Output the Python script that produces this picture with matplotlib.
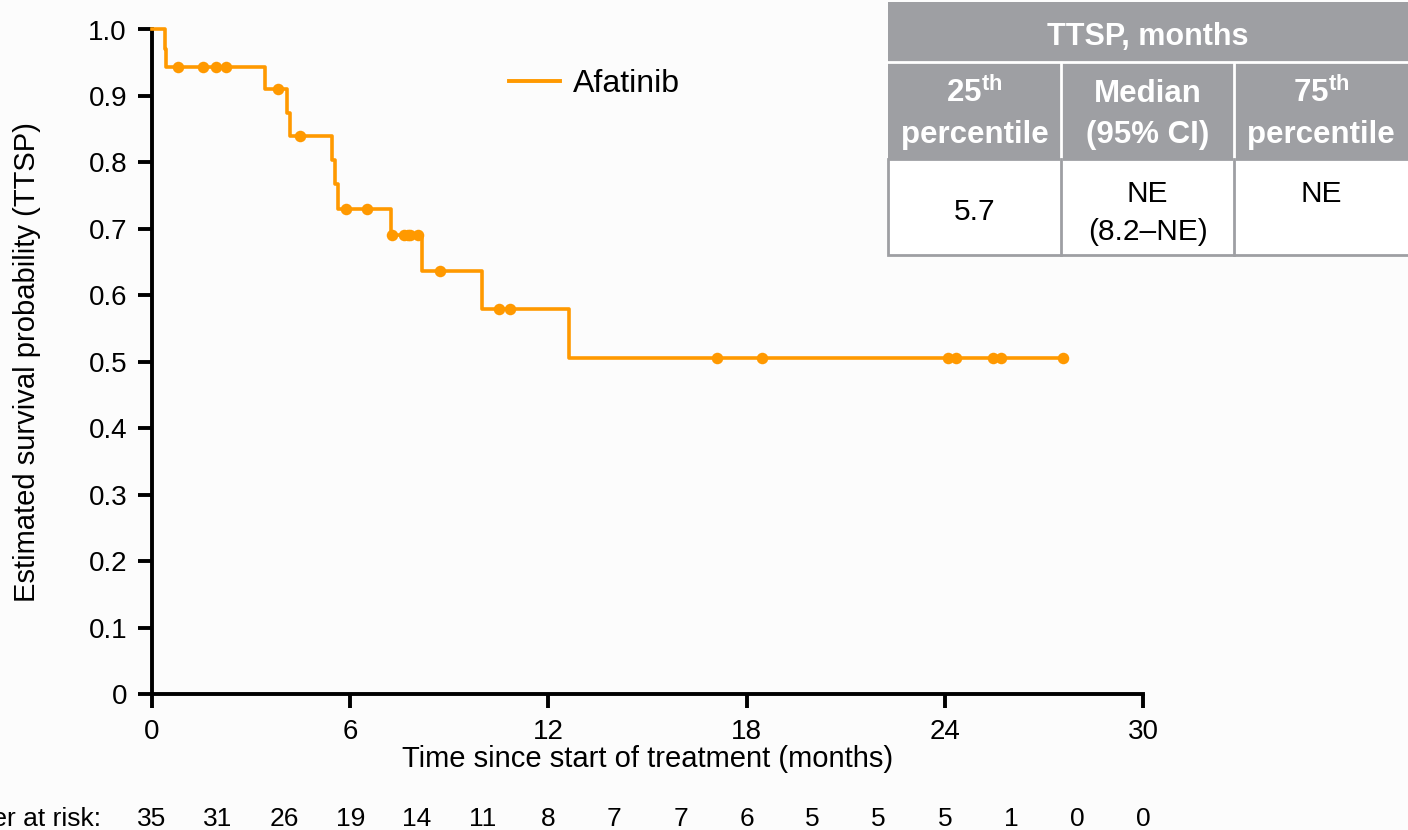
import numpy as np
import matplotlib
matplotlib.use("Agg")
import matplotlib.pyplot as plt
import matplotlib.transforms as mtransforms
from matplotlib.patches import Rectangle
from matplotlib.lines import Line2D

# Kaplan-Meier step curve
step_times = [0, 0.38, 0.42, 3.42, 4.08, 4.18, 5.44, 5.54, 5.64, 7.24, 8.18, 9.98, 12.61]
survival = [1.0, 0.971, 0.943, 0.910, 0.875, 0.840, 0.804, 0.768, 0.730, 0.691, 0.637, 0.579, 0.505]
end_time = 27.57

censor_times = [0.78, 1.55, 1.95, 2.25, 3.80, 4.49, 5.87, 6.52, 7.28, 7.62, 7.74,
                7.82, 8.06, 8.72, 10.49, 10.85, 17.10, 18.46, 24.11, 24.34,
                25.47, 25.70, 27.57]

risk_times = list(range(0, 31, 2))
n_at_risk = [35, 31, 26, 19, 14, 11, 8, 7, 7, 6, 5, 5, 5, 1, 0, 0]

table_title = "TTSP, months"
table_head = [(r"25$^{\mathbf{th}}$", "percentile"), ("Median", "(95% CI)"),
              (r"75$^{\mathbf{th}}$", "percentile")]
table_vals = [("5.7",), ("NE", "(8.2\u2013NE)"), ("NE",)]

ORANGE = "#FF9900"
GREY = "#9e9fa3"
BG = "#fcfcfc"

plt.rcParams.update({
    "font.family": ["Liberation Sans", "DejaVu Sans"],
    "mathtext.fontset": "custom",
    "mathtext.rm": "Liberation Sans",
    "mathtext.bf": "Liberation Sans:bold",
})

W, H = 1408, 830


def fx(px):
    return px / W


def fy(py):
    return 1 - py / H


fig = plt.figure(figsize=(W / 100, H / 100), dpi=100, facecolor=BG)
ax = fig.add_axes([fx(152), fy(694), fx(1143) - fx(152), fy(29.5) - fy(694)])
ax.set_facecolor(BG)

x = step_times + [end_time]
y = survival + [survival[-1]]
ax.step(x, y, where="post", color=ORANGE, lw=2.6, clip_on=False, zorder=3)

idx = np.searchsorted(step_times, censor_times, side="right") - 1
cy = np.array(survival)[idx]
ax.plot(censor_times, cy, "o", color=ORANGE, ms=8.3, mew=0, clip_on=False, zorder=4)

ax.set_xlim(0, 30)
ax.set_ylim(0, 1.0)
ax.set_xticks([0, 6, 12, 18, 24, 30])
ax.set_yticks(np.arange(0, 1.01, 0.1))
ax.set_yticklabels(["0"] + [f"{v:.1f}" for v in np.arange(0.1, 1.01, 0.1)])
for s in ["top", "right"]:
    ax.spines[s].set_visible(False)
for s in ["left", "bottom"]:
    ax.spines[s].set_linewidth(2.8)
ax.tick_params(direction="out", length=10, width=2.8, labelsize=20, pad=8)
ax.set_xlabel("Time since start of treatment (months)", fontsize=21, va="baseline")
ax.xaxis.set_label_coords(0.5, (694 - 767) / 664.5)
ax.set_ylabel("Estimated survival probability (TTSP)", fontsize=21, va="center")
ax.yaxis.set_label_coords((27 - 152) / 991, 0.5)

# legend
ax.legend([Line2D([], [], color=ORANGE, lw=2.8)], ["Afatinib"],
          loc="center left", bbox_to_anchor=(fx(509), fy(84)),
          bbox_transform=fig.transFigure, frameon=False, borderpad=0,
          borderaxespad=0, fontsize=23, handlelength=1.6, handletextpad=0.4)

# number at risk row
risk_tr = mtransforms.blended_transform_factory(ax.transData, fig.transFigure)
for t, n in zip(risk_times, n_at_risk):
    ax.text(t, fy(826), str(n), transform=risk_tr, ha="center", va="baseline",
            fontsize=19)
fig.text(fx(101), fy(826), "Number at risk:", ha="right", va="baseline", fontsize=19)

# summary table
cols_x = [888, 1061, 1234, 1408]
fig.add_artist(Rectangle((fx(888), fy(159)), fx(1408) - fx(888), fy(2) - fy(159),
                         transform=fig.transFigure, facecolor=GREY, edgecolor="none"))
fig.add_artist(Rectangle((fx(888), fy(255)), fx(1409) - fx(888), fy(159) - fy(255),
                         transform=fig.transFigure, facecolor="white", edgecolor=GREY,
                         lw=2))
fig.add_artist(Line2D([fx(888), fx(1408)], [fy(62.5), fy(62.5)],
                      transform=fig.transFigure, color="white", lw=2))
for cx in cols_x[1:3]:
    fig.add_artist(Line2D([fx(cx), fx(cx)], [fy(63), fy(159)],
                          transform=fig.transFigure, color="white", lw=2))
    fig.add_artist(Line2D([fx(cx), fx(cx)], [fy(159), fy(255)],
                          transform=fig.transFigure, color=GREY, lw=2))

fig.text(fx((888 + 1408) / 2), fy(45), table_title, ha="center", va="baseline",
         color="white", fontsize=22, fontweight="bold")
for i, (head, vals) in enumerate(zip(table_head, table_vals)):
    xc = fx((cols_x[i] + cols_x[i + 1]) / 2)
    for line, base in zip(head, [102, 143]):
        fig.text(xc, fy(base), line, ha="center", va="baseline", color="white",
                 fontsize=22.5, fontweight="bold")
    bases = [220] if i == 0 else [202, 240]
    for line, base in zip(vals, bases):
        fig.text(xc, fy(base), line, ha="center", va="baseline", fontsize=21.5)

fig.savefig("out.png", dpi=100, facecolor=BG)
